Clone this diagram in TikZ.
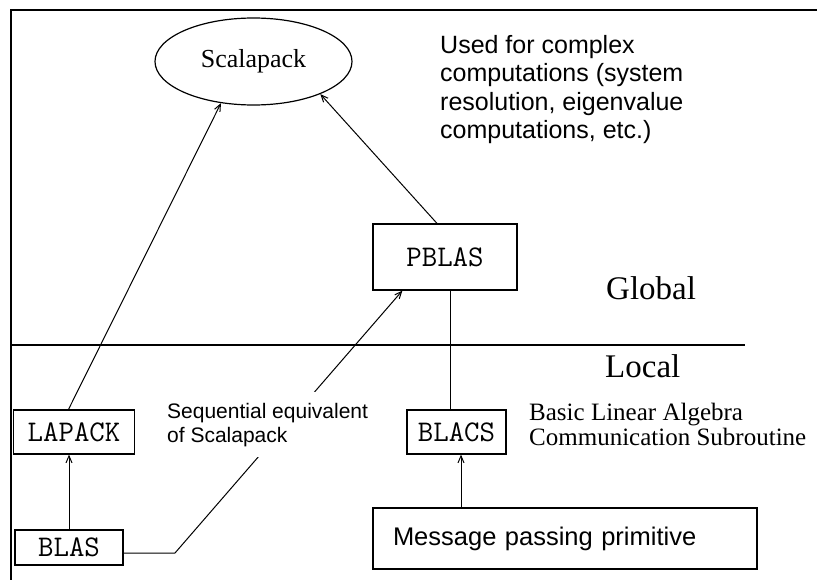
\documentclass[tikz,border=0pt]{standalone}
\usepackage{fontspec}
\setmainfont{Liberation Serif}
\setsansfont{Liberation Sans}
\usetikzlibrary{arrows.meta, positioning, shapes.geometric}

\begin{document}
\begin{tikzpicture}[x=1pt, y=-1pt,
    box/.style={draw, line width=1.2pt, inner sep=0pt, font=\ttfamily\fontsize{30}{32}\selectfont},
    arr/.style={line width=1pt, -{Straight Barb[length=7pt, width=6pt]}},
    link/.style={line width=1pt},
    note/.style={font=\sffamily\fontsize{25}{28.6}\selectfont, align=left, inner sep=0pt},
    level/.style={font=\fontsize{33}{36}\selectfont, inner sep=0pt}
]
\useasboundingbox (0,0) rectangle (817,580);
\draw[line width=2.5pt] (11,580) -- (11,10) -- (817,10);

% libraries
\node[draw, ellipse, line width=1.2pt, minimum width=197, minimum height=87,
      font=\fontsize{26}{28}\selectfont] (scalapack) at (253.5,61.5) {Scalapack};
\node[box, minimum width=144, minimum height=66] (pblas) at (445,257) {PBLAS};
\node[box, minimum width=121, minimum height=44] (lapack) at (74,432) {LAPACK};
\node[box, minimum width=99, minimum height=44] (blacs) at (456.5,432) {BLACS};
\node[box, minimum width=108, minimum height=35] (blas) at (69,547.5) {BLAS};
\node[draw, line width=1.2pt, minimum width=384, minimum height=61, text width=344,
      inner xsep=20, align=left, font=\sffamily\fontsize{25.5}{28}\selectfont]
      (msg) at (565,538.5) {Message passing primitive};
\coordinate (bend) at (175,553);

% connectors
\draw[arr] ([xshift=-5.5pt]lapack.north) -- (scalapack.232);
\draw[arr] ([xshift=-8pt]pblas.north) -- (scalapack.334);
\draw[arr] (blas.north) -- (blas.north |- lapack.south);
\draw[arr] ([yshift=-5.5pt]blas.east) -- (bend) -- ([xshift=30pt]pblas.south west);
\draw[link] ([xshift=5pt]pblas.south) -- ([xshift=5pt]pblas.south |- blacs.north);
\draw[arr] ([xshift=4.5pt]blacs.south |- msg.north) -- ([xshift=4.5pt]blacs.south);

% global / local
\draw[line width=1.5pt] (11,345) -- (745,345);
\node[level, anchor=base west] (global) at (606,300) {Global};
\node[level, anchor=base west] (local) at (605,377) {Local};

% notes (base = last line)
\node[note, anchor=base west] (used) at (440,139)
    {Used for complex\\computations (system\\resolution, eigenvalue\\computations, etc.)};
\node[note, fill=white, inner xsep=4pt, inner ysep=11pt, anchor=base west,
      font=\sffamily\fontsize{21}{24}\selectfont] (seq) at (163,442)
    {Sequential equivalent\\of Scalapack};
\node[anchor=base west, align=left, inner sep=0pt, font=\fontsize{25}{25}\selectfont]
    (blacsnote) at (529,445) {Basic Linear Algebra\\Communication Subroutine};
\end{tikzpicture}
\end{document}
